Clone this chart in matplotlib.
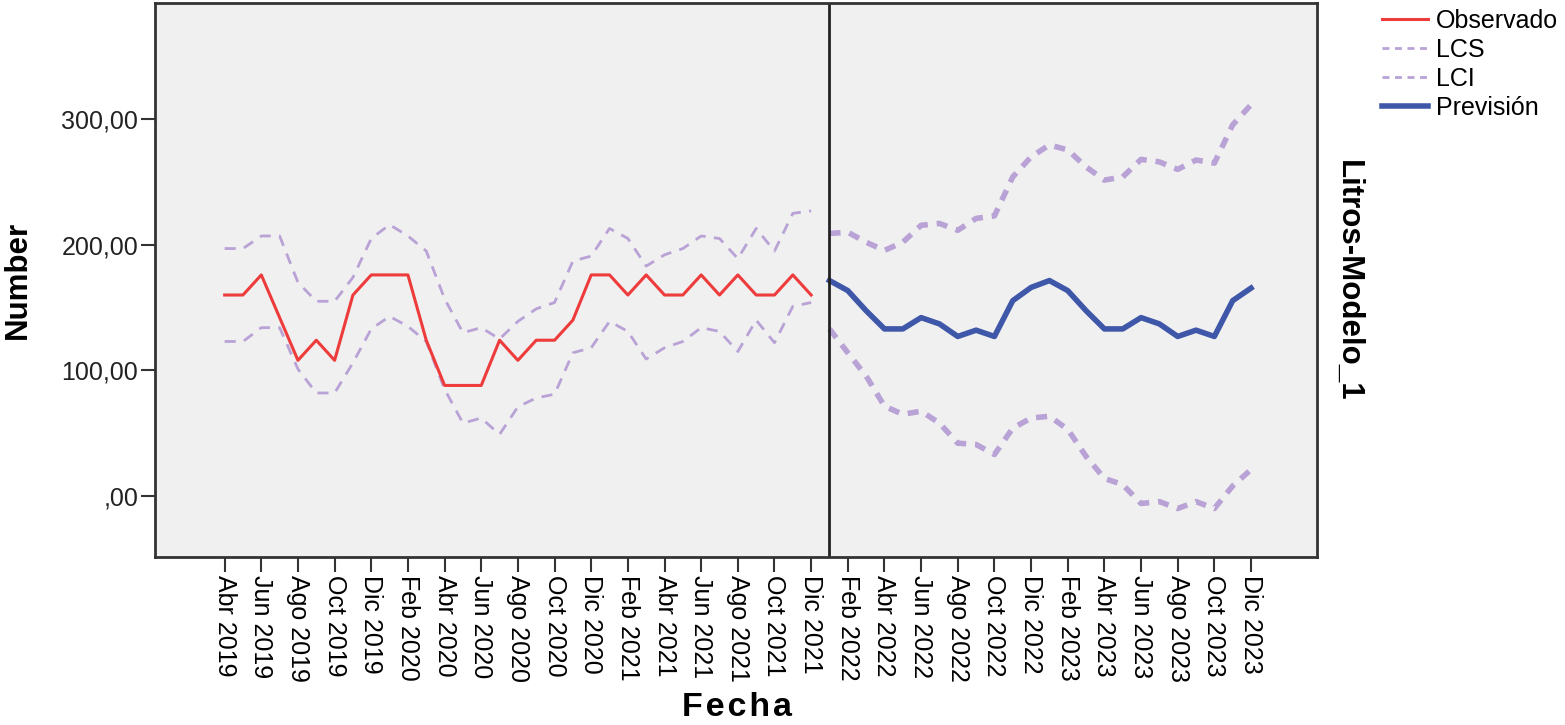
import numpy as np
import pandas as pd
import matplotlib
matplotlib.use("Agg")
from matplotlib import pyplot as plt
from matplotlib.lines import Line2D

plt.rcParams['font.family'] = ['Liberation Sans', 'DejaVu Sans']

# monthly series Abr 2019 .. Dic 2023
meses = ['Ene', 'Feb', 'Mar', 'Abr', 'May', 'Jun', 'Jul', 'Ago', 'Sep', 'Oct', 'Nov', 'Dic']
fechas = pd.date_range('2019-04-01', '2023-12-01', freq='MS')
etiquetas = [meses[d.month - 1] + ' ' + str(d.year) for d in fechas]

# observed period (Abr 2019 - Dic 2021)
observado = [160, 160, 176, 142, 108, 124, 108, 160, 176, 176, 176, 124, 88, 88, 88,
             124, 108, 124, 124, 140, 176, 176, 160, 176, 160, 160, 176, 160, 176, 160,
             160, 176, 160]
lcs_obs = [197, 197, 207, 207, 170, 155, 155, 174, 205, 216, 207, 195, 157, 130, 134,
           125, 139, 149, 154, 187, 191, 213, 205, 183, 192, 197, 207, 205, 189, 213,
           195, 225, 227]
lci_obs = [123, 123, 134, 134, 101, 82, 82, 106, 133, 143, 135, 123, 85, 58, 62,
           49, 71, 78, 81, 114, 118, 139, 131, 109, 118, 123, 134, 131, 115, 140,
           122, 151, 154]

# forecast period (Ene 2022 - Dic 2023)
prevision = [171.5, 163.5, 147.5, 133, 133, 142, 137, 127, 132, 127, 155.5, 166,
             171.5, 163.5, 147.5, 133, 133, 142, 137, 127, 132, 127, 155.5, 165.5]
lcs_prev = [209, 210, 202, 195.5, 202, 215.5, 217, 211.5, 221, 223, 254, 270,
            279.5, 275.5, 262, 251.5, 254, 268, 266, 260, 267.5, 265, 295.5, 311.5]
lci_prev = [133, 114, 95.5, 71.5, 65, 67.5, 58, 42, 41, 33, 54, 62,
            63.5, 53, 31.5, 14, 9, -6, -4.5, -10, -4.5, -10, 8, 21]

rojo = '#EE3B3B'
azul = '#3F57A8'
lila = '#B9A2D6'

n_obs = len(observado)
x_obs = np.arange(n_obs)
x_prev = np.arange(n_obs, n_obs + len(prevision))

fig = plt.figure(figsize=(15.65, 7.25), dpi=100)
ax = fig.add_axes([155 / 1565, 1 - 557 / 725, (1317 - 155) / 1565, (557 - 3) / 725])
ax.set_facecolor('#F0F0F0')

ax.plot(x_obs, lcs_obs, color=lila, lw=2, ls=(0, (4, 3)))
ax.plot(x_obs, lci_obs, color=lila, lw=2, ls=(0, (4, 3)))
ax.plot(x_obs, observado, color=rojo, lw=2.2)

ax.plot(x_prev, lcs_prev, color=lila, lw=4, ls=(0, (2, 1.6)))
ax.plot(x_prev, lci_prev, color=lila, lw=4, ls=(0, (2, 1.6)))
ax.plot(x_prev, prevision, color=azul, lw=4)

ax.axvline(n_obs, color='#222222', lw=2)

ax.set_xlim(-3.8, 59.6)
ax.set_ylim(-48.6, 392.5)

ax.set_xticks(np.arange(0, len(etiquetas), 2))
ax.set_xticklabels(etiquetas[::2], rotation=270, fontsize=18)
ax.set_yticks([0, 100, 200, 300])
ax.set_yticklabels([',00', '100,00', '200,00', '300,00'], fontsize=18, color='#222222')
ax.tick_params(axis='x', length=11, width=1.5, color='#333333', pad=2)
ax.tick_params(axis='y', length=10, width=1.5, color='#333333', pad=2)
for s in ax.spines.values():
    s.set_color('#333333')
    s.set_linewidth(2)

fig.text(18 / 1565, 1 - 280 / 725, 'Number', rotation=90, fontsize=22.5,
         fontweight='bold', ha='center', va='center')
fig.text(737 / 1565, 1 - 708 / 725, 'F e c h a'.replace(' ', '\u200a'), fontsize=24.5,
         fontweight='bold', ha='center', va='center')
fig.text(1348 / 1565, 1 - 281 / 725, 'Litros-Modelo_1', rotation=270, fontsize=22.5,
         fontweight='bold', ha='center', va='center')

handles = [
    Line2D([], [], color=rojo, lw=2.2),
    Line2D([], [], color=lila, lw=2, ls=(0, (2.5, 2))),
    Line2D([], [], color=lila, lw=2, ls=(0, (2.5, 2))),
    Line2D([], [], color=azul, lw=4),
]
fig.legend(handles, ['Observado', 'LCS', 'LCI', 'Previsión'], loc='upper left',
           bbox_to_anchor=(0.872, 1.012), frameon=False, fontsize=18,
           handlelength=1.85, handletextpad=0.3, labelspacing=0.2, borderpad=0.2)

fig.savefig('out.png', dpi=100)
